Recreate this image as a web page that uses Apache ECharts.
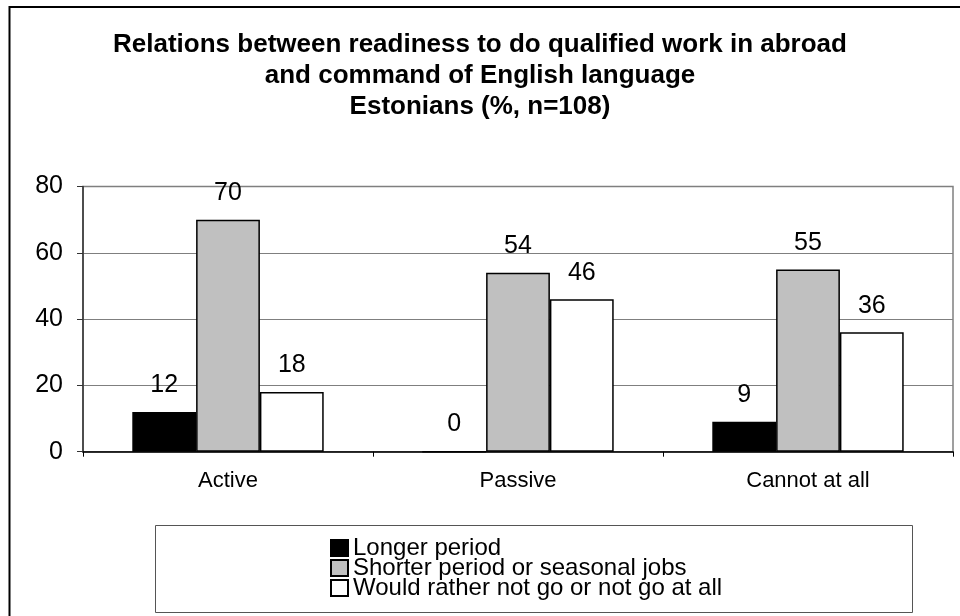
<!DOCTYPE html>
<html>
<head>
<meta charset="utf-8">
<script src="https://cdn.jsdelivr.net/npm/echarts@6/dist/echarts.min.js"></script>
<style>
html,body{margin:0;padding:0;background:#fff;}
#chart{width:960px;height:616px;}
</style>
</head>
<body>
<div id="chart"></div>
<script>
const categories = ['Active', 'Passive', 'Cannot at all'];
const longerPeriod = [12, 0, 9];
const shorterPeriod = [70, 54, 55];
const notGo = [18, 46, 36];
const seriesNames = ['Longer period', 'Shorter period or seasonal jobs', 'Would rather not go or not go at all'];
const yTicks = [0, 20, 40, 60, 80];

const FONT = "'Liberation Sans', Arial, sans-serif";
const chart = echarts.init(document.getElementById('chart'), null, {renderer: 'canvas'});

const labelStyle = {
  show: true, position: 'top', distance: 14,
  fontFamily: FONT, fontSize: 25, color: '#000'
};
function mkSeries(name, data, color) {
  return {
    name: name, type: 'bar', data: data,
    barGap: '0%', barCategoryGap: '34%',
    itemStyle: {color: color, borderColor: '#000', borderWidth: 1.5},
    label: labelStyle,
    emphasis: {disabled: true}
  };
}

chart.setOption({
  animation: false,
  backgroundColor: '#fff',
  title: {
    text: 'Relations between readiness to do qualified work in abroad\nand command of English language\nEstonians (%, n=108)',
    left: 'center', top: 29, padding: [0, 0, 0, 20],
    textStyle: {fontFamily: FONT, fontSize: 26, fontWeight: 'bold', color: '#000', lineHeight: 31}
  },
  graphic: [
    {type: 'rect', shape: {x: 9.5, y: 7, width: 1000, height: 700}, style: {fill: 'none', stroke: '#000', lineWidth: 2}, silent: true, z: 100},
    {type: 'rect', shape: {x: 155.5, y: 525.5, width: 757, height: 87}, style: {fill: '#fff', stroke: '#555', lineWidth: 1}, silent: true, z: 0}
  ],
  legend: {
    orient: 'vertical', left: 325, top: 531,
    icon: 'rect',
    itemWidth: 17, itemHeight: 16, itemGap: -4,
    data: seriesNames,
    textStyle: {fontFamily: FONT, fontSize: 24, color: '#000', lineHeight: 21},
    z: 10
  },
  grid: {
    left: 83, right: 7, top: 186.5, bottom: 164.3,
    show: true, borderColor: '#808080', borderWidth: 1.5, backgroundColor: 'transparent'
  },
  xAxis: {
    type: 'category', data: categories,
    axisLine: {lineStyle: {color: '#000', width: 1.5}},
    axisTick: {show: true, length: 5, lineStyle: {color: '#000'}},
    axisLabel: {fontFamily: FONT, fontSize: 22, color: '#000', margin: 18}
  },
  yAxis: {
    type: 'value', min: yTicks[0], max: yTicks[yTicks.length - 1], interval: 20,
    axisLine: {show: true, lineStyle: {color: '#333', width: 1.5}},
    axisTick: {show: true, length: 6, lineStyle: {color: '#333'}},
    axisLabel: {fontFamily: FONT, fontSize: 25, color: '#000', margin: 20},
    splitLine: {lineStyle: {color: '#7f7f7f', width: 1}}
  },
  series: [
    mkSeries(seriesNames[0], longerPeriod, '#000000'),
    mkSeries(seriesNames[1], shorterPeriod, '#c0c0c0'),
    mkSeries(seriesNames[2], notGo, '#ffffff')
  ]
});
</script>
</body>
</html>
